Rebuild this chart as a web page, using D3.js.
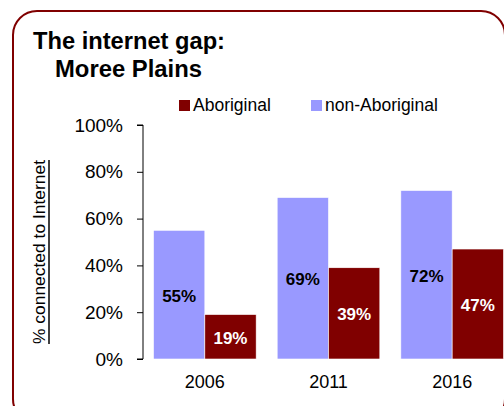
<!DOCTYPE html>
<html>
<head>
<meta charset="utf-8">
<script src="https://cdn.jsdelivr.net/npm/d3@7"></script>
<style>
  body { margin: 0; background: #fff; }
  text { font-family: "Liberation Sans", Arial, sans-serif; }
</style>
</head>
<body>
<script>
// chart data
var years = ["2006", "2011", "2016"];
var seriesNames = ["non-Aboriginal", "Aboriginal"];
var nonAboriginal = [55, 69, 72];
var aboriginal = [19, 39, 47];
var yTicks = [0, 20, 40, 60, 80, 100];
var colors = { "non-Aboriginal": "#9999ff", "Aboriginal": "#800000" };

var W = 504, H = 406;
var svg = d3.select("body").append("svg").attr("width", W).attr("height", H);

// rounded frame
svg.append("rect")
    .attr("x", 13).attr("y", 11)
    .attr("width", 492).attr("height", 412)
    .attr("rx", 24).attr("ry", 24)
    .attr("fill", "none")
    .attr("stroke", "#800000")
    .attr("stroke-width", 2);

// title
svg.append("text").attr("x", 33).attr("y", 49)
    .attr("font-size", 23).attr("font-weight", "bold")
    .attr("textLength", 192).attr("lengthAdjust", "spacingAndGlyphs")
    .text("The internet gap:");
svg.append("text").attr("x", 55).attr("y", 77)
    .attr("font-size", 23).attr("font-weight", "bold")
    .attr("textLength", 147).attr("lengthAdjust", "spacingAndGlyphs")
    .text("Moree Plains");

var y = d3.scaleLinear().domain([0, 100]).range([359, 125]);
var x0 = d3.scaleBand().domain(years).range([143, 514]).paddingInner(0.17).paddingOuter(0.085);
var x1 = d3.scaleBand().domain(seriesNames).range([0, x0.bandwidth()]);

// y axis
var yAxis = d3.axisLeft(y).tickValues(yTicks).tickFormat(function(d) { return d + "%"; }).tickSize(6).tickPadding(14);
var ga = svg.append("g").attr("transform", "translate(143,0)").call(yAxis);
ga.select(".domain").attr("stroke", "#000").attr("d", "M-6,125H0V359H-6");
ga.selectAll("text").attr("font-size", 19).attr("fill", "#000")
    .attr("font-family", "'Liberation Sans', Arial, sans-serif");

// y title
var yt = svg.append("g").attr("transform", "translate(45,252) rotate(-90)");
yt.append("text").attr("text-anchor", "middle").attr("font-size", 16)
    .attr("textLength", 184).attr("lengthAdjust", "spacingAndGlyphs")
    .text("% connected to Internet");
yt.append("line").attr("x1", -92).attr("x2", 92).attr("y1", 4).attr("y2", 4)
    .attr("stroke", "#000").attr("stroke-width", 1.5);

// bars
var rows = years.map(function(yr, i) {
  return [
    { year: yr, series: "non-Aboriginal", value: nonAboriginal[i] },
    { year: yr, series: "Aboriginal", value: aboriginal[i] }
  ];
});

var groups = svg.selectAll("g.grp").data(rows).enter().append("g")
    .attr("class", "grp")
    .attr("transform", function(d) { return "translate(" + x0(d[0].year) + ",0)"; });

groups.selectAll("rect").data(function(d) { return d; }).enter().append("rect")
    .attr("x", function(d) { return x1(d.series); })
    .attr("y", function(d) { return y(d.value); })
    .attr("width", x1.bandwidth())
    .attr("height", function(d) { return y(0) - y(d.value); })
    .attr("fill", function(d) { return colors[d.series]; })
    .attr("stroke", "#fff").attr("stroke-width", 0.6);

groups.selectAll("text.val").data(function(d) { return d; }).enter().append("text")
    .attr("class", "val")
    .attr("x", function(d) { return x1(d.series) + x1.bandwidth() / 2; })
    .attr("y", function(d) { return (y(d.value) + y(0)) / 2 + 7; })
    .attr("text-anchor", "middle")
    .attr("font-size", 17).attr("font-weight", "bold")
    .attr("fill", function(d) { return d.series === "Aboriginal" ? "#fff" : "#000"; })
    .text(function(d) { return d.value + "%"; });

// x labels
svg.selectAll("text.yr").data(years).enter().append("text")
    .attr("class", "yr")
    .attr("x", function(d) { return x0(d) + x0.bandwidth() / 2; })
    .attr("y", 388)
    .attr("text-anchor", "middle").attr("font-size", 18)
    .text(function(d) { return d; });

// legend
var legendItems = [
  { name: "Aboriginal", x: 179 },
  { name: "non-Aboriginal", x: 311 }
];
var lg = svg.selectAll("g.lg").data(legendItems).enter().append("g")
    .attr("class", "lg")
    .attr("transform", function(d) { return "translate(" + d.x + ",100)"; });
lg.append("rect").attr("width", 11).attr("height", 11)
    .attr("fill", function(d) { return colors[d.name]; });
lg.append("text").attr("x", 14).attr("y", 11).attr("font-size", 17.5)
    .text(function(d) { return d.name; });
</script>
</body>
</html>
